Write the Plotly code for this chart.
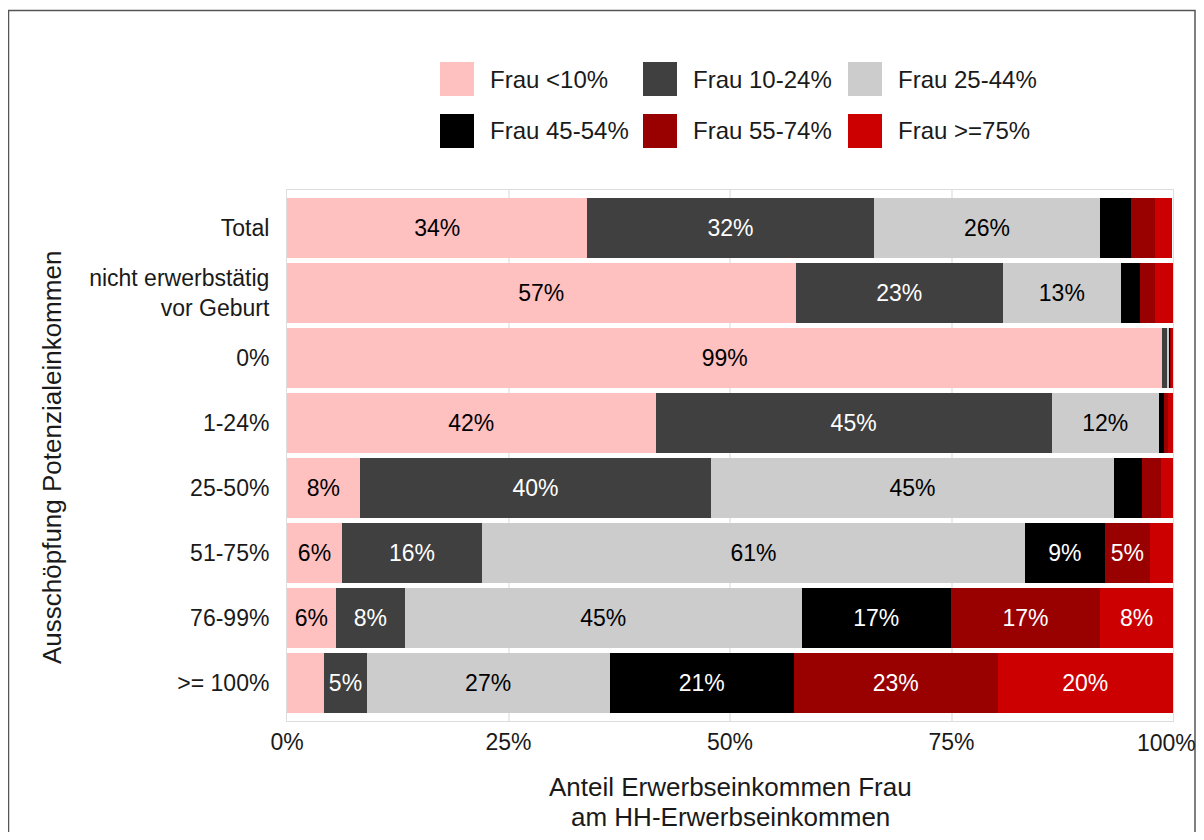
import plotly.graph_objects as go

# categories (top to bottom)
categories = ["Total", "nicht erwerbstätig<br>vor Geburt", "0%", "1-24%",
              "25-50%", "51-75%", "76-99%", ">= 100%"]

series_names = ["Frau <10%", "Frau 10-24%", "Frau 25-44%",
                "Frau 45-54%", "Frau 55-74%", "Frau >=75%"]
series_colors = ["#FFC0C0", "#404040", "#CCCCCC", "#000000", "#990000", "#CC0000"]
text_colors = ["black", "white", "black", "white", "white", "white"]

# shares in percent, one list per series, same order as categories
frau_lt10 = [33.9, 57.4, 98.8, 41.6, 8.2, 6.2, 5.5, 4.2]
frau_10_24 = [32.3, 23.4, 0.6, 44.7, 39.7, 15.8, 7.8, 4.8]
frau_25_44 = [25.6, 13.3, 0.2, 12.1, 45.4, 61.3, 44.8, 27.4]
frau_45_54 = [3.5, 2.2, 0.1, 0.6, 3.2, 9.0, 16.8, 20.8]
frau_55_74 = [2.7, 1.7, 0.1, 0.4, 2.1, 5.1, 16.9, 23.0]
frau_ge75 = [1.9, 2.0, 0.2, 0.6, 1.4, 2.6, 8.2, 19.8]

series_values = [frau_lt10, frau_10_24, frau_25_44, frau_45_54, frau_55_74, frau_ge75]

x_ticks = [0, 25, 50, 75, 100]
x_ticktext = ["0%", "25%", "50%", "75%", "100%"]

x_title = ["Anteil Erwerbseinkommen Frau", "am HH-Erwerbseinkommen"]
y_title = "Ausschöpfung Potenzialeinkommen"

FONT = "Liberation Sans, Arial, sans-serif"

fig = go.Figure()
for name, vals, col, tcol in zip(series_names, series_values, series_colors, text_colors):
    labels = [f"{round(v)}%" if round(v) >= 5 else "" for v in vals]
    fig.add_trace(go.Bar(
        y=categories, x=vals, name=name, orientation="h",
        marker=dict(color=col, line=dict(width=0)),
        text=labels, textposition="inside", insidetextanchor="middle",
        textfont=dict(color=tcol, size=23, family=FONT),
        constraintext="none", showlegend=False, hoverinfo="skip",
    ))

# the page puts the figure at an 8px offset; work in screen pixels
OFF = 8
W, H = 1204 - 2 * OFF, 840 - 2 * OFF
# plot area on screen: left 287, right 1173, top 190, bottom 721
L, R, T, B = 287 - OFF, OFF + W - 1173, 190 - OFF, OFF + H - 721
pw, ph = W - L - R, H - T - B

def px(x):
    return (x - OFF - L) / pw

def py(y):
    return (H - B - (y - OFF)) / ph

shapes = []
annotations = []

# legend (2 rows x 3 columns) built from the series lists
leg_x = [440, 643, 848]
leg_y = [62, 114]
sw = 34
for i, (name, col) in enumerate(zip(series_names, series_colors)):
    r, c = divmod(i, 3)
    x0, y0 = leg_x[c], leg_y[r]
    shapes.append(dict(type="rect", xref="paper", yref="paper",
                       x0=px(x0), x1=px(x0 + sw), y0=py(y0 + sw), y1=py(y0),
                       fillcolor=col, line=dict(width=0)))
    annotations.append(dict(x=px(x0 + sw + 14), y=py(y0 + sw / 2), xref="paper", yref="paper",
                            text=name, showarrow=False, xanchor="left", yanchor="middle",
                            font=dict(size=24, family=FONT, color="#1a1a1a")))

# last x tick label sits at the page edge; place it as an annotation so it is not dropped
annotations.append(dict(x=x_ticks[-1], y=py(743), xref="x", yref="paper",
                        text=x_ticktext[-1], showarrow=False, xanchor="center",
                        yanchor="middle", xshift=-7,
                        font=dict(size=23, family=FONT, color="#1a1a1a")))

# outer frame
shapes.append(dict(type="rect", xref="paper", yref="paper",
                   x0=px(8.5), x1=px(OFF + W - 1), y0=py(850), y1=py(10.5),
                   line=dict(color="#555555", width=1.5), fillcolor="rgba(0,0,0,0)"))

# axis titles
for line, yy in zip(x_title, [787, 817]):
    annotations.append(dict(x=0.5, y=py(yy), xref="paper", yref="paper",
                            text=line, showarrow=False, xanchor="center", yanchor="middle",
                            font=dict(size=26, family=FONT, color="#1a1a1a")))
annotations.append(dict(x=px(52), y=py(458), xref="paper", yref="paper",
                        text=y_title, textangle=-90,
                        showarrow=False, xanchor="center", yanchor="middle",
                        font=dict(size=26, family=FONT, color="#1a1a1a")))

fig.update_layout(
    barmode="stack", bargap=0.077,
    width=W, height=H,
    margin=dict(l=L, r=R, t=T, b=B),
    paper_bgcolor="white", plot_bgcolor="white",
    font=dict(family=FONT, size=23, color="#1a1a1a"),
    uniformtext=dict(minsize=23, mode="show"),
    shapes=shapes, annotations=annotations,
    xaxis=dict(range=[0, 100], tickvals=x_ticks[:-1], ticktext=x_ticktext[:-1],
               showgrid=True, gridcolor="#EBEBEB", gridwidth=1.5,
               zeroline=False, showline=True, mirror=True, linecolor="#DDDDDD",
               ticks="", tickfont=dict(size=23, color="#1a1a1a")),
    yaxis=dict(categoryorder="array", categoryarray=categories,
               range=[len(categories) - 0.42, -0.58],
               showgrid=False, zeroline=False, showline=True, mirror=True,
               linecolor="#DDDDDD", ticks="", ticklabelstandoff=12,
               tickfont=dict(size=23, color="#1a1a1a")),
)

fig.write_html("out.html")
